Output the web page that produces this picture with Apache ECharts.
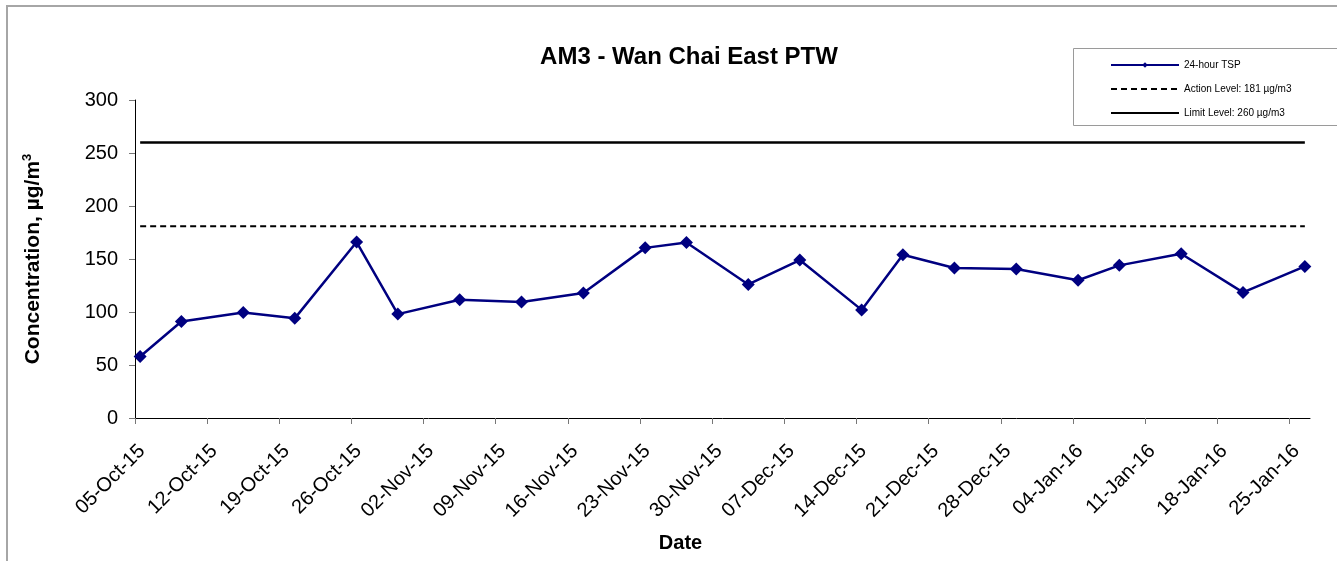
<!DOCTYPE html>
<html>
<head>
<meta charset="utf-8">
<title>AM3 - Wan Chai East PTW</title>
<script src="https://cdn.jsdelivr.net/npm/echarts@6/dist/echarts.min.js"></script>
<style>
  html, body { margin: 0; padding: 0; background: #fff; }
  #chart { width: 1337px; height: 561px; }
</style>
</head>
<body>
<div id="chart"></div>
<script>
// Sampling dates and 24-hour TSP results (µg/m3)
const sampleDates = [
  '2015-10-05', '2015-10-09', '2015-10-15', '2015-10-20', '2015-10-26', '2015-10-30',
  '2015-11-05', '2015-11-11', '2015-11-17', '2015-11-23', '2015-11-27', '2015-12-03',
  '2015-12-08', '2015-12-14', '2015-12-18', '2015-12-23', '2015-12-29', '2016-01-04',
  '2016-01-08', '2016-01-14', '2016-01-20', '2016-01-26'
];
const tspValues = [
  58, 91, 99.5, 94, 166, 98,
  111.5, 109.5, 118, 160.5, 165.5, 126,
  149, 102, 154, 141.5, 140.5, 130,
  144, 155, 118.5, 143
];
const actionLevel = 181;
const limitLevel = 260;

// Axis range: first and last day shown, weekly tick labels
const axisStart = '2015-10-05';
const axisEnd = '2016-01-27';
const yTicks = [0, 50, 100, 150, 200, 250, 300];

const DAY = 86400000;
const MONTHS = ['Jan','Feb','Mar','Apr','May','Jun','Jul','Aug','Sep','Oct','Nov','Dec'];
const t0 = Date.parse(axisStart + 'T00:00:00Z');
// day offset from the start of the axis; each reading sits in the middle of its day
function dayPos(s) { return (Date.parse(s + 'T00:00:00Z') - t0) / DAY + 0.5; }
function fmtDay(d) {
  const dt = new Date(t0 + Math.round(d) * DAY);
  const dd = String(dt.getUTCDate()).padStart(2, '0');
  const yy = String(dt.getUTCFullYear()).slice(2);
  return dd + '-' + MONTHS[dt.getUTCMonth()] + '-' + yy;
}
const axisMax = (Date.parse(axisEnd + 'T00:00:00Z') - t0) / DAY;
const weekTicks = [];
for (let d = 0; d <= axisMax; d += 7) weekTicks.push(d);

const tspData = sampleDates.map((s, i) => [dayPos(s), tspValues[i]]);
const actionData = sampleDates.map(s => [dayPos(s), actionLevel]);
const limitData = sampleDates.map(s => [dayPos(s), limitLevel]);

const FONT = 'Arial, "Liberation Sans", Helvetica, sans-serif';

const chart = echarts.init(document.getElementById('chart'), null, { renderer: 'canvas' });
chart.setOption({
  animation: false,
  backgroundColor: '#ffffff',
  textStyle: { fontFamily: FONT, color: '#000' },
  title: {
    text: 'AM3 - Wan Chai East PTW',
    left: 684, top: 40, textAlign: 'center',
    textStyle: { fontFamily: FONT, fontSize: 24, fontWeight: 'bold', color: '#000' }
  },
  graphic: [
    { type: 'rect', silent: true, z: -10,
      shape: { x: 7, y: 6, width: 1400, height: 620 },
      style: { fill: 'none', stroke: '#a6a6a6', lineWidth: 2 } },
    { type: 'rect', silent: true, z: -5,
      shape: { x: 1073.5, y: 48.5, width: 300, height: 77 },
      style: { fill: '#fff', stroke: '#9a9a9a', lineWidth: 1 } }
  ],
  legend: {
    left: 1105, top: 55, orient: 'vertical',
    itemWidth: 68, itemHeight: 7, itemGap: 14,
    textStyle: { fontFamily: FONT, fontSize: 10, color: '#000' },
    data: [
      { name: '24-hour TSP' },
      { name: 'Action Level: 181 µg/m3', itemStyle: { opacity: 0 } },
      { name: 'Limit Level: 260 µg/m3', itemStyle: { opacity: 0 } }
    ]
  },
  grid: { left: 135, right: 27, top: 100, bottom: 143, containLabel: false },
  xAxis: {
    type: 'value', min: 0, max: axisMax,
    name: 'Date', nameLocation: 'middle', nameGap: 115,
    nameTextStyle: { fontFamily: FONT, fontSize: 20, fontWeight: 'bold', color: '#000', padding: [0, 84, 0, 0] },
    splitLine: { show: false },
    axisLine: { lineStyle: { color: '#000', width: 1 } },
    axisTick: { length: 6, lineStyle: { color: '#777' }, customValues: weekTicks },
    axisLabel: {
      customValues: weekTicks, rotate: 45, margin: 23, verticalAlign: 'top',
      fontFamily: FONT, fontSize: 20, color: '#000',
      formatter: v => fmtDay(v)
    }
  },
  yAxis: {
    type: 'value', min: yTicks[0], max: yTicks[yTicks.length - 1], interval: 50,
    name: 'Concentration, µg/m{sup|3}', nameLocation: 'middle', nameGap: 89,
    nameTextStyle: {
      fontFamily: FONT, fontSize: 21, fontWeight: 'bold', color: '#000',
      rich: { sup: { fontFamily: FONT, fontSize: 13, fontWeight: 'bold', color: '#000', verticalAlign: 'top', padding: [0, 0, 12, 0] } }
    },
    splitLine: { show: false },
    axisLine: { show: true, lineStyle: { color: '#000', width: 1 } },
    axisTick: { show: true, length: 6, lineStyle: { color: '#777' } },
    axisLabel: { margin: 17, fontFamily: FONT, fontSize: 20, color: '#000' }
  },
  series: [
    {
      name: '24-hour TSP', type: 'line', data: tspData, z: 5,
      symbol: 'diamond', symbolSize: 13,
      lineStyle: { color: '#000080', width: 2.5 },
      itemStyle: { color: '#000080' }
    },
    {
      name: 'Action Level: 181 µg/m3', type: 'line', data: actionData, z: 3,
      symbol: 'none',
      lineStyle: { color: '#000', width: 2, type: [6, 4] },
      itemStyle: { color: '#000' }
    },
    {
      name: 'Limit Level: 260 µg/m3', type: 'line', data: limitData, z: 3,
      symbol: 'none',
      lineStyle: { color: '#000', width: 2.5 },
      itemStyle: { color: '#000' }
    }
  ]
});
</script>
</body>
</html>
